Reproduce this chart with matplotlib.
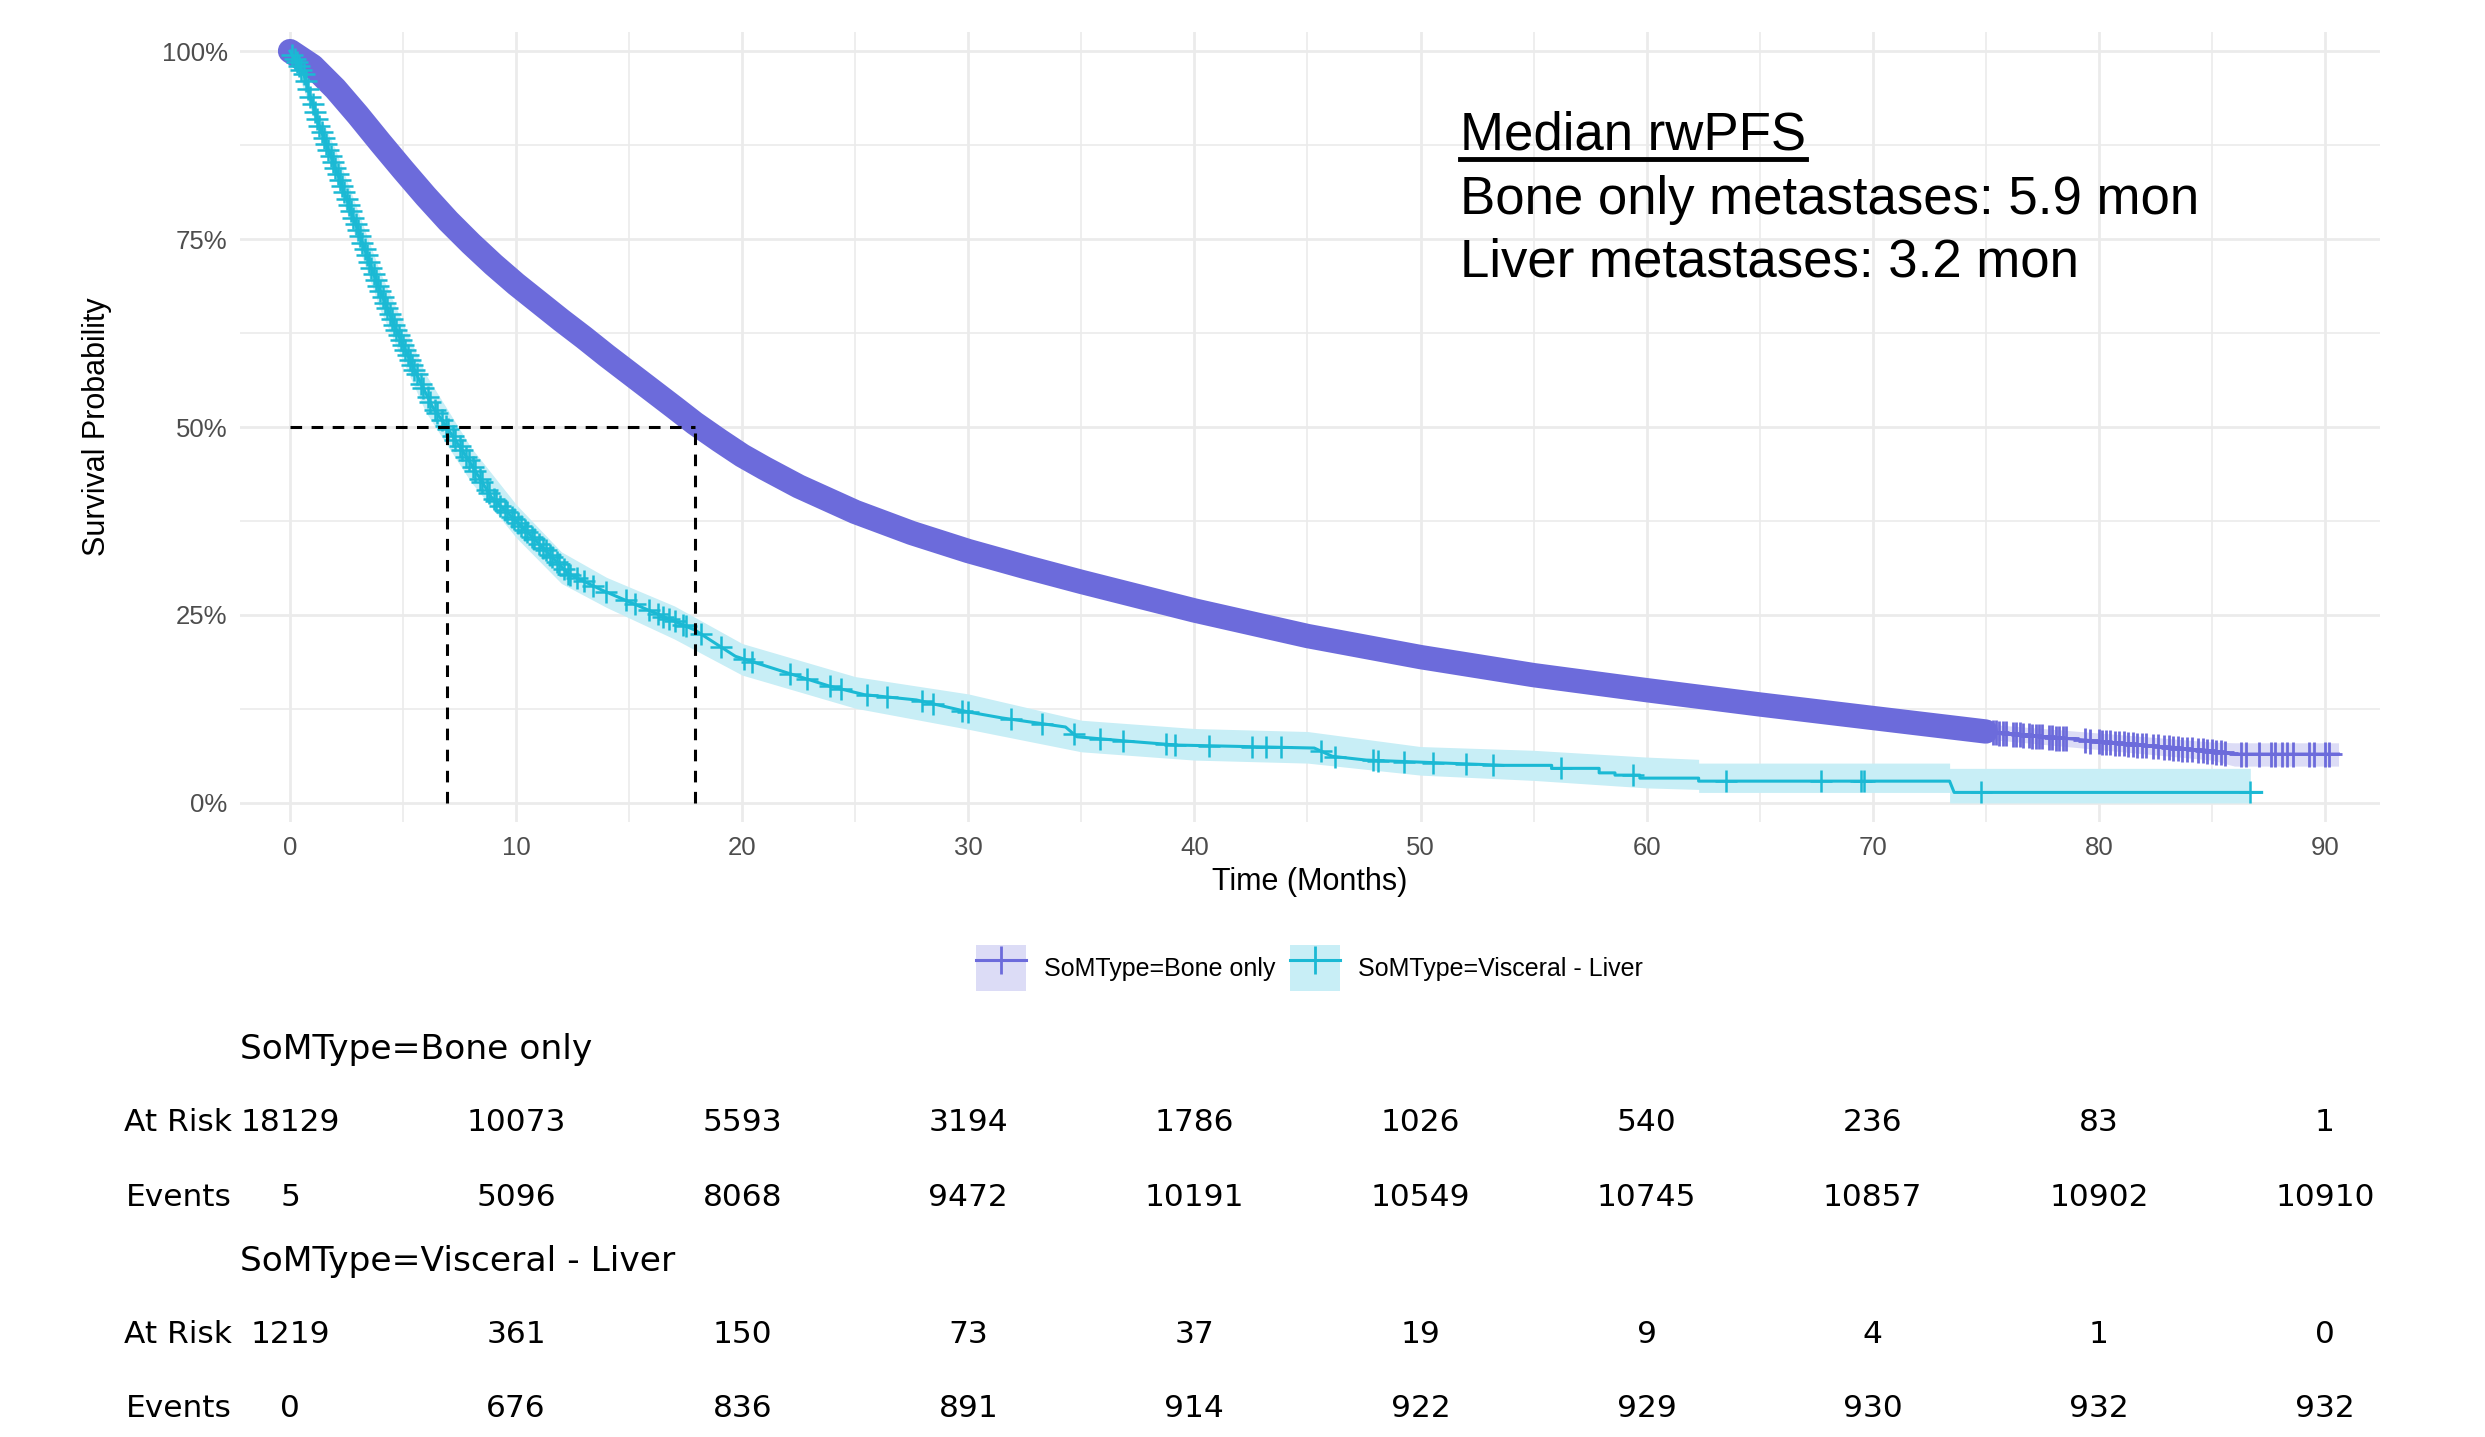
"""Kaplan-Meier style rwPFS plot, bone only vs liver metastases, with risk table."""

import matplotlib
matplotlib.use("Agg")
import matplotlib.pyplot as plt
import matplotlib.transforms as mtransforms
from matplotlib.lines import Line2D
from matplotlib.patches import Patch
from matplotlib.legend_handler import HandlerTuple
import numpy as np

## Constants
DPI = 100
BONE_COLOR = '#6C6BDB'
BONE_FILL = '#DCDCF6'
LIVER_COLOR = '#1BB9D4'
LIVER_FILL = '#C8EEF6'
GRID_COLOR = '#EBEBEB'
TICK_COLOR = '#4D4D4D'
SANS = 'Liberation Sans'
TABLE_FONT = 'DejaVu Sans'
BAND_END = 75  # censor marks are so dense before this that they merge into a band

## Data
month_ticks = [0, 10, 20, 30, 40, 50, 60, 70, 80, 90]
month_minor = [5, 15, 25, 35, 45, 55, 65, 75, 85]
surv_ticks = [0, 0.25, 0.5, 0.75, 1.0]
surv_labels = ['0%', '25%', '50%', '75%', '100%']
surv_minor = [0.125, 0.375, 0.625, 0.875]

bone_t = [0, 1, 2, 3, 4, 5, 6, 7, 8, 9, 10, 11, 12, 13, 14, 15, 16, 17, 17.9, 19, 20, 21, 22.5,
          25, 27.5, 30, 32.5, 35, 40, 45, 50, 55, 60, 65, 70, 75, 80, 85, 86, 90.6]
bone_s = [1.0, 0.980, 0.950, 0.915, 0.878, 0.842, 0.807, 0.774, 0.744, 0.716, 0.690, 0.666,
          0.642, 0.619, 0.595, 0.572, 0.549, 0.526, 0.505, 0.482, 0.462, 0.445, 0.421, 0.387,
          0.359, 0.335, 0.314, 0.294, 0.256, 0.222, 0.194, 0.170, 0.150, 0.131, 0.113, 0.095,
          0.082, 0.069, 0.065, 0.065]
bone_ci_t = [60, 70, 75, 80, 85, 86, 90.6]
bone_lo = [0.143, 0.104, 0.085, 0.071, 0.057, 0.049, 0.049]
bone_hi = [0.157, 0.122, 0.105, 0.093, 0.081, 0.080, 0.080]
bone_cens = [75.3, 75.45, 75.6, 75.75, 75.9, 76.2, 76.35, 76.5, 76.65, 76.9, 77.05, 77.2, 77.35,
             77.5, 77.8, 77.95, 78.1, 78.25, 78.4, 78.55, 79.4, 79.6, 80.0, 80.15, 80.3, 80.5,
             80.7, 80.9, 81.1, 81.3, 81.5, 81.7, 81.9, 82.1, 82.4, 82.6, 82.9, 83.1, 83.3, 83.5,
             83.7, 83.9, 84.1, 84.4, 84.6, 84.8, 85.0, 85.2, 85.4, 85.6, 86.3, 86.5, 87.1, 87.6,
             87.8, 88.1, 88.3, 88.6, 89.3, 89.5, 90.0, 90.2]

liver_t = [0, 0.6, 1.25, 2.1, 2.95, 3.8, 4.64, 5.5, 6.3, 6.93, 7.9, 8.9, 10.1, 11.3, 12.3, 13.8,
           15.5, 17.9, 19.7, 22.1, 23.9, 25.4, 27.7, 30.0, 31.5, 34.3, 34.8, 37.1, 39.2, 45.3,
           46.1, 47.6, 53.7, 55.8, 55.8, 57.9, 57.9, 58.6, 58.6, 59.7, 59.7, 62.3, 62.3, 73.4,
           73.6, 87.2]
liver_s = [1.0, 0.97, 0.904, 0.837, 0.766, 0.695, 0.633, 0.576, 0.527, 0.50, 0.456, 0.407, 0.372,
           0.336, 0.305, 0.283, 0.261, 0.23, 0.195, 0.172, 0.155, 0.144, 0.137, 0.121, 0.113,
           0.101, 0.088, 0.082, 0.077, 0.073, 0.062, 0.057, 0.050, 0.050, 0.046, 0.046, 0.040,
           0.040, 0.037, 0.037, 0.033, 0.033, 0.029, 0.029, 0.014, 0.014]
liver_ci_t = [0, 2, 4, 6, 8, 10, 12, 14, 17, 20, 25, 30, 35, 40, 45, 50, 55, 60, 62.3, 62.3,
              73.4, 73.4, 86.7]
liver_lo = [1.0, 0.83, 0.655, 0.52, 0.427, 0.353, 0.292, 0.26, 0.218, 0.17, 0.126, 0.098, 0.068,
            0.057, 0.053, 0.037, 0.030, 0.020, 0.018, 0.014, 0.014, 0.0, 0.0]
liver_hi = [1.0, 0.87, 0.705, 0.57, 0.473, 0.397, 0.334, 0.30, 0.262, 0.212, 0.168, 0.145, 0.11,
            0.099, 0.095, 0.075, 0.07, 0.061, 0.058, 0.053, 0.053, 0.046, 0.046]
liver_cens = [0.1, 0.2, 0.3, 0.4, 0.5, 0.6, 0.7, 0.8, 0.9, 1.0, 1.1, 1.2, 1.3, 1.4, 1.5, 1.6,
              1.7, 1.8, 1.9, 2.0, 2.1, 2.2, 2.3, 2.4, 2.5, 2.6, 2.7, 2.8, 2.9, 3.0, 3.1, 3.2,
              3.3, 3.4, 3.5, 3.6, 3.7, 3.8, 3.9, 4.0, 4.1, 4.2, 4.3, 4.4, 4.5, 4.6, 4.7, 4.8,
              4.9, 5.0, 5.1, 5.2, 5.3, 5.4, 5.5, 5.6, 5.8, 5.9, 6.1, 6.2, 6.4, 6.5, 6.7, 6.9,
              7.0, 7.2, 7.3, 7.5, 7.6, 7.8, 7.9, 8.1, 8.2, 8.4, 8.5, 8.7, 8.8, 9.0, 9.1, 9.3,
              9.5, 9.6, 9.8, 9.9, 10.1, 10.2, 10.4, 10.5, 10.7, 10.8, 11.0, 11.2, 11.3, 11.5,
              11.6, 11.8, 11.9, 12.1, 12.3, 12.4, 12.7, 13.0, 13.4, 13.97, 14.86, 15.24,
              15.88, 16.26, 16.51, 16.77, 17.02, 17.4, 17.53, 18.16, 19.05, 20.07, 20.45, 22.1,
              22.86, 23.88, 24.39, 25.53, 26.42, 27.94, 28.45, 29.72, 29.98, 31.88, 33.28, 34.68,
              35.82, 36.83, 38.74, 39.12, 40.64, 42.55, 43.18, 43.82, 45.6, 46.23, 47.88, 48.14,
              49.28, 50.55, 52.0, 53.2, 56.2, 59.4, 63.5, 67.7, 69.5, 69.6, 74.8, 86.7]

median_times = [6.93, 17.9]  # where each curve crosses 50%

bone_at_risk = [18129, 10073, 5593, 3194, 1786, 1026, 540, 236, 83, 1]
bone_events = [5, 5096, 8068, 9472, 10191, 10549, 10745, 10857, 10902, 10910]
liver_at_risk = [1219, 361, 150, 73, 37, 19, 9, 4, 1, 0]
liver_events = [0, 676, 836, 891, 914, 922, 929, 930, 932, 932]

legend_labels = ['SoMType=Bone only', 'SoMType=Visceral - Liver']
median_lines = ['Median rwPFS', 'Bone only metastases: 5.9 mon', 'Liver metastases: 3.2 mon']


# plot
fig = plt.figure(figsize=(2485 / DPI, 1437 / DPI), dpi=DPI)
ax = fig.add_axes([0.0966, 0.428, 0.8611, 0.5497])
ax.set_xlim(-2.21, 92.43)
ax.set_ylim(-0.0253, 1.0253)
for sp in ax.spines.values():
    sp.set_visible(False)

ax.set_xticks(month_ticks)
ax.set_xticklabels([str(m) for m in month_ticks])
ax.set_xticks(month_minor, minor=True)
ax.set_yticks(surv_ticks)
ax.set_yticklabels(surv_labels)
ax.set_yticks(surv_minor, minor=True)
ax.tick_params(which='both', length=0)
ax.tick_params(axis='x', pad=10)
ax.tick_params(axis='y', pad=9)
for lab in ax.get_xticklabels() + ax.get_yticklabels():
    lab.set_fontfamily(SANS)
    lab.set_fontsize(18.5)
    lab.set_color(TICK_COLOR)
ax.grid(which='major', color=GRID_COLOR, lw=2.0)
ax.grid(which='minor', color=GRID_COLOR, lw=1.2)
ax.set_axisbelow(True)

ax.set_xlabel('Time (Months)', family=SANS, fontsize=22, labelpad=5)
ax.set_ylabel('Survival Probability', family=SANS, fontsize=22, labelpad=36)

# confidence ribbons
ax.fill_between(bone_ci_t, bone_lo, bone_hi, color=BONE_FILL, lw=0, zorder=2)
ax.fill_between(liver_ci_t, liver_lo, liver_hi, color=LIVER_FILL, lw=0, zorder=2)

# bone only: dense censoring shows as a thick band
bt = np.array(bone_t)
bs = np.array(bone_s)
band = bt <= BAND_END
ax.plot(bt[band], bs[band], lw=17.5, color=BONE_COLOR, solid_capstyle='round',
        solid_joinstyle='round', zorder=3)
ax.plot(bt, bs, lw=2.2, color=BONE_COLOR, zorder=3)
ax.plot(bone_cens, np.interp(bone_cens, bt, bs), ls='none', marker='+', ms=18, mew=2.0,
        color=BONE_COLOR, zorder=3)

# liver
ax.plot(liver_t, liver_s, lw=2.2, color=LIVER_COLOR, zorder=4)
ax.plot(liver_cens, np.interp(liver_cens, liver_t, liver_s), ls='none', marker='+', ms=16,
        mew=1.8, color=LIVER_COLOR, zorder=4)

# median guide lines
ax.plot([0, max(median_times)], [0.5, 0.5], color='black', lw=2.2, dashes=(3.8, 3.1), zorder=5)
for mt in median_times:
    ax.plot([mt, mt], [0, 0.5], color='black', lw=2.2, dashes=(3.8, 3.1), zorder=5)

# median annotation
title_txt = fig.text(0.5875, 0.906, median_lines[0], family=SANS, fontsize=38, va='center')
fig.text(0.5875, 0.861, median_lines[1], family=SANS, fontsize=38, va='center')
fig.text(0.5875, 0.8175, median_lines[2], family=SANS, fontsize=38, va='center')

# legend
handles = [(Patch(facecolor=BONE_FILL, edgecolor='none'),
            Line2D([], [], color=BONE_COLOR, lw=2.2, marker='+', ms=20, mew=2.0)),
           (Patch(facecolor=LIVER_FILL, edgecolor='none'),
            Line2D([], [], color=LIVER_COLOR, lw=2.2, marker='+', ms=20, mew=2.0))]
fig.legend(handles, legend_labels, loc='center', bbox_to_anchor=(0.527, 0.3264), ncol=2,
           frameon=False, prop={'family': SANS, 'size': 18}, handlelength=2.0,
           handleheight=2.5, handletextpad=0.7, columnspacing=0.6,
           handler_map={tuple: HandlerTuple(ndivide=1)})

# risk table
tr = mtransforms.blended_transform_factory(ax.transData, fig.transFigure)
rows = [('SoMType=Bone only', None, 0.270),
        ('At Risk', bone_at_risk, 0.2192),
        ('Events', bone_events, 0.167),
        ('SoMType=Visceral - Liver', None, 0.1218),
        ('At Risk', liver_at_risk, 0.071),
        ('Events', liver_events, 0.0195)]
for label, values, y in rows:
    if values is None:
        fig.text(-2.21, y, label, transform=tr, family=TABLE_FONT, fontsize=24.8,
                 va='center', ha='left')
        continue
    fig.text(-2.57, y, label, transform=tr, family=TABLE_FONT, fontsize=22.5,
             va='center', ha='right')
    for m, v in zip(month_ticks, values):
        fig.text(m, y, str(v), transform=tr, family=TABLE_FONT, fontsize=22.5,
                 va='center', ha='center')

# underline the annotation title
fig.canvas.draw()
bb = title_txt.get_window_extent().transformed(fig.transFigure.inverted())
fig.add_artist(Line2D([bb.x0, bb.x1], [0.8894, 0.8894], color='black', lw=3.5,
                      transform=fig.transFigure))

fig.savefig('out.png', dpi=DPI)
